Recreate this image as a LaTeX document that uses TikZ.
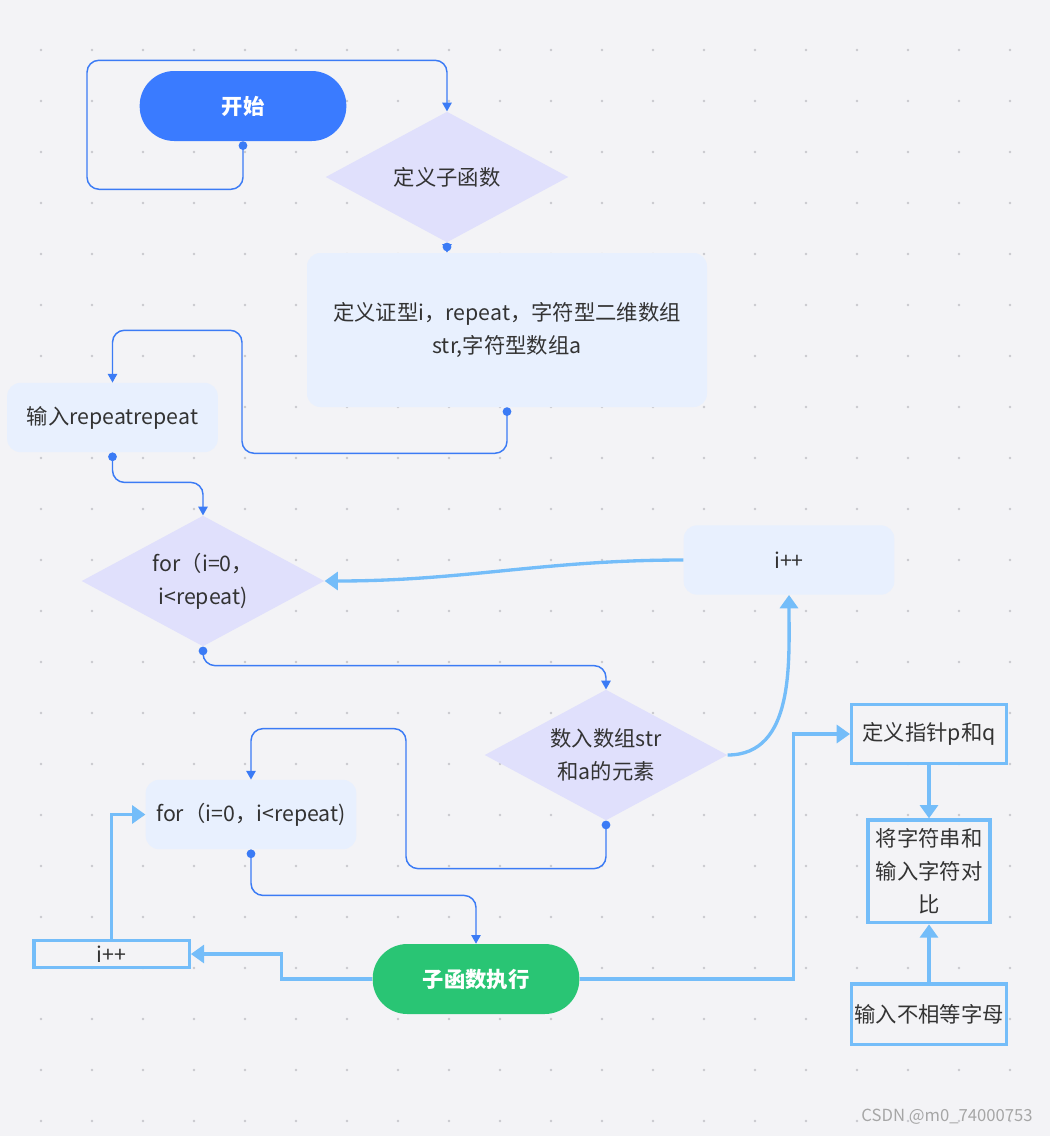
\documentclass[tikz,border=0pt]{standalone}
\usepackage{fontspec}
\setmainfont{Noto Sans CJK SC}
\usepackage{xcolor}
\usetikzlibrary{shapes.geometric, arrows.meta, positioning}
\definecolor{canvas}{HTML}{F3F3F6}
\definecolor{gridgray}{HTML}{C9C9CE}
\definecolor{paleblue}{HTML}{E8F0FE}
\definecolor{lavender}{HTML}{E0E0FC}
\definecolor{startblue}{HTML}{3A7BFF}
\definecolor{rungreen}{HTML}{29C574}
\definecolor{royal}{HTML}{3B7BF5}
\definecolor{sky}{HTML}{74BDF9}
\definecolor{ink}{HTML}{333333}

\begin{document}
\begin{tikzpicture}[
    x=0.75pt, y=-0.75pt,
    every node/.style={font=\fontsize{16}{25}\selectfont, text=ink, align=center},
    box/.style={fill=paleblue, rounded corners=10pt, minimum width=158pt, minimum height=52pt, inner sep=0pt},
    dia/.style={diamond, aspect=1.85, fill=lavender, minimum width=182pt, minimum height=98pt, inner sep=0pt},
    pill/.style={rounded corners=26pt, minimum width=155pt, minimum height=52.5pt, text=white, font=\fontsize{16}{25}\selectfont\bfseries},
    frame/.style={draw=sky, line width=2.5pt, fill=canvas, inner sep=0pt},
    link/.style={draw=royal, line width=1.1pt, rounded corners=9pt, {Circle[length=6.5pt]}-{Triangle[length=6.5pt,width=7pt]}},
    flow/.style={draw=sky, line width=2.5pt, -{Triangle[length=10pt,width=13.5pt]}},
]
\fill[canvas] (0,0) rectangle (1050,1136);
\useasboundingbox (0,0) rectangle (1050,1136);
\foreach \i in {0,...,19}
  \foreach \j in {0,...,21}
    \fill[gridgray] ({41+51*\i},{50+51*\j}) circle (1.1pt);

\node[pill, fill=startblue] (start) at (243,106) {开始};
\node[dia] (defn) at (447,177) {定义子函数};
\node[box, minimum width=300pt, minimum height=115.5pt] (decl) at (507,330) {定义证型i，repeat，字符型二维数组\\str,字符型数组a};
\node[box] (inp) at (112.5,417.5) {输入repeatrepeat};
\node[dia] (forq) at (203,581) {for（i=0，\\i<repeat)};
\node[dia] (elems) at (606,755) {数入数组str\\和a的元素};
\node[box] (incA) at (789,560) {i++};
\node[box] (forb) at (251,814.5) {for（i=0，i<repeat)};
\node[pill, fill=rungreen] (run) at (476,979) {子函数执行};
\node[frame, minimum width=116.5pt, minimum height=20pt] (incB) at (111.5,954) {i++};
\node[frame, minimum width=116pt, minimum height=44pt] (ptr) at (929,734) {定义指针p和q};
\node[frame, minimum width=91.5pt, minimum height=77pt, below=40pt of ptr] (cmp) {将字符串和\\输入字符对\\比};
\node[frame, minimum width=116pt, minimum height=45.5pt, below=43.5pt of cmp] (neq) {输入不相等字母};
\node[font=\fontsize{12.5}{14}\selectfont, text=gray!70] (mark) at (947,1117) {CSDN @m0\_74000753};

\draw[link] (start.south) -- ++(0,48) -| ++(-156,-129) -| (defn.north);
\draw[link] (defn.south) -- (defn.south |- decl.north);
\draw[link] (decl.south) -- ++(0,46) -| ++(-265,-123) -| (inp.north);
\draw[link] (inp.south) -- ++(0,30) -| (forq.north);
\draw[link] (forq.south) -- ++(0,19) -| (elems.north);
\draw[link] (elems.south) -- ++(0,48) -| ++(-200,-140) -| (forb.north);
\draw[link] (forb.south) -- ++(0,46) -| (run.north);

\draw[flow] (incA.west) to[out=180, in=0] (forq.east);
\draw[flow] (elems.east) to[out=0, in=-90] (incA.south);
\draw[flow] (run.west) -- ++(-91,0) |- (incB.east);
\draw[flow] (incB.north) |- (forb.west);
\draw[flow] (run.east) -- ++(214,0) |- (ptr.west);
\draw[flow] (ptr.south) -- (cmp.north);
\draw[flow] (neq.north) -- (cmp.south);
\end{tikzpicture}
\end{document}
